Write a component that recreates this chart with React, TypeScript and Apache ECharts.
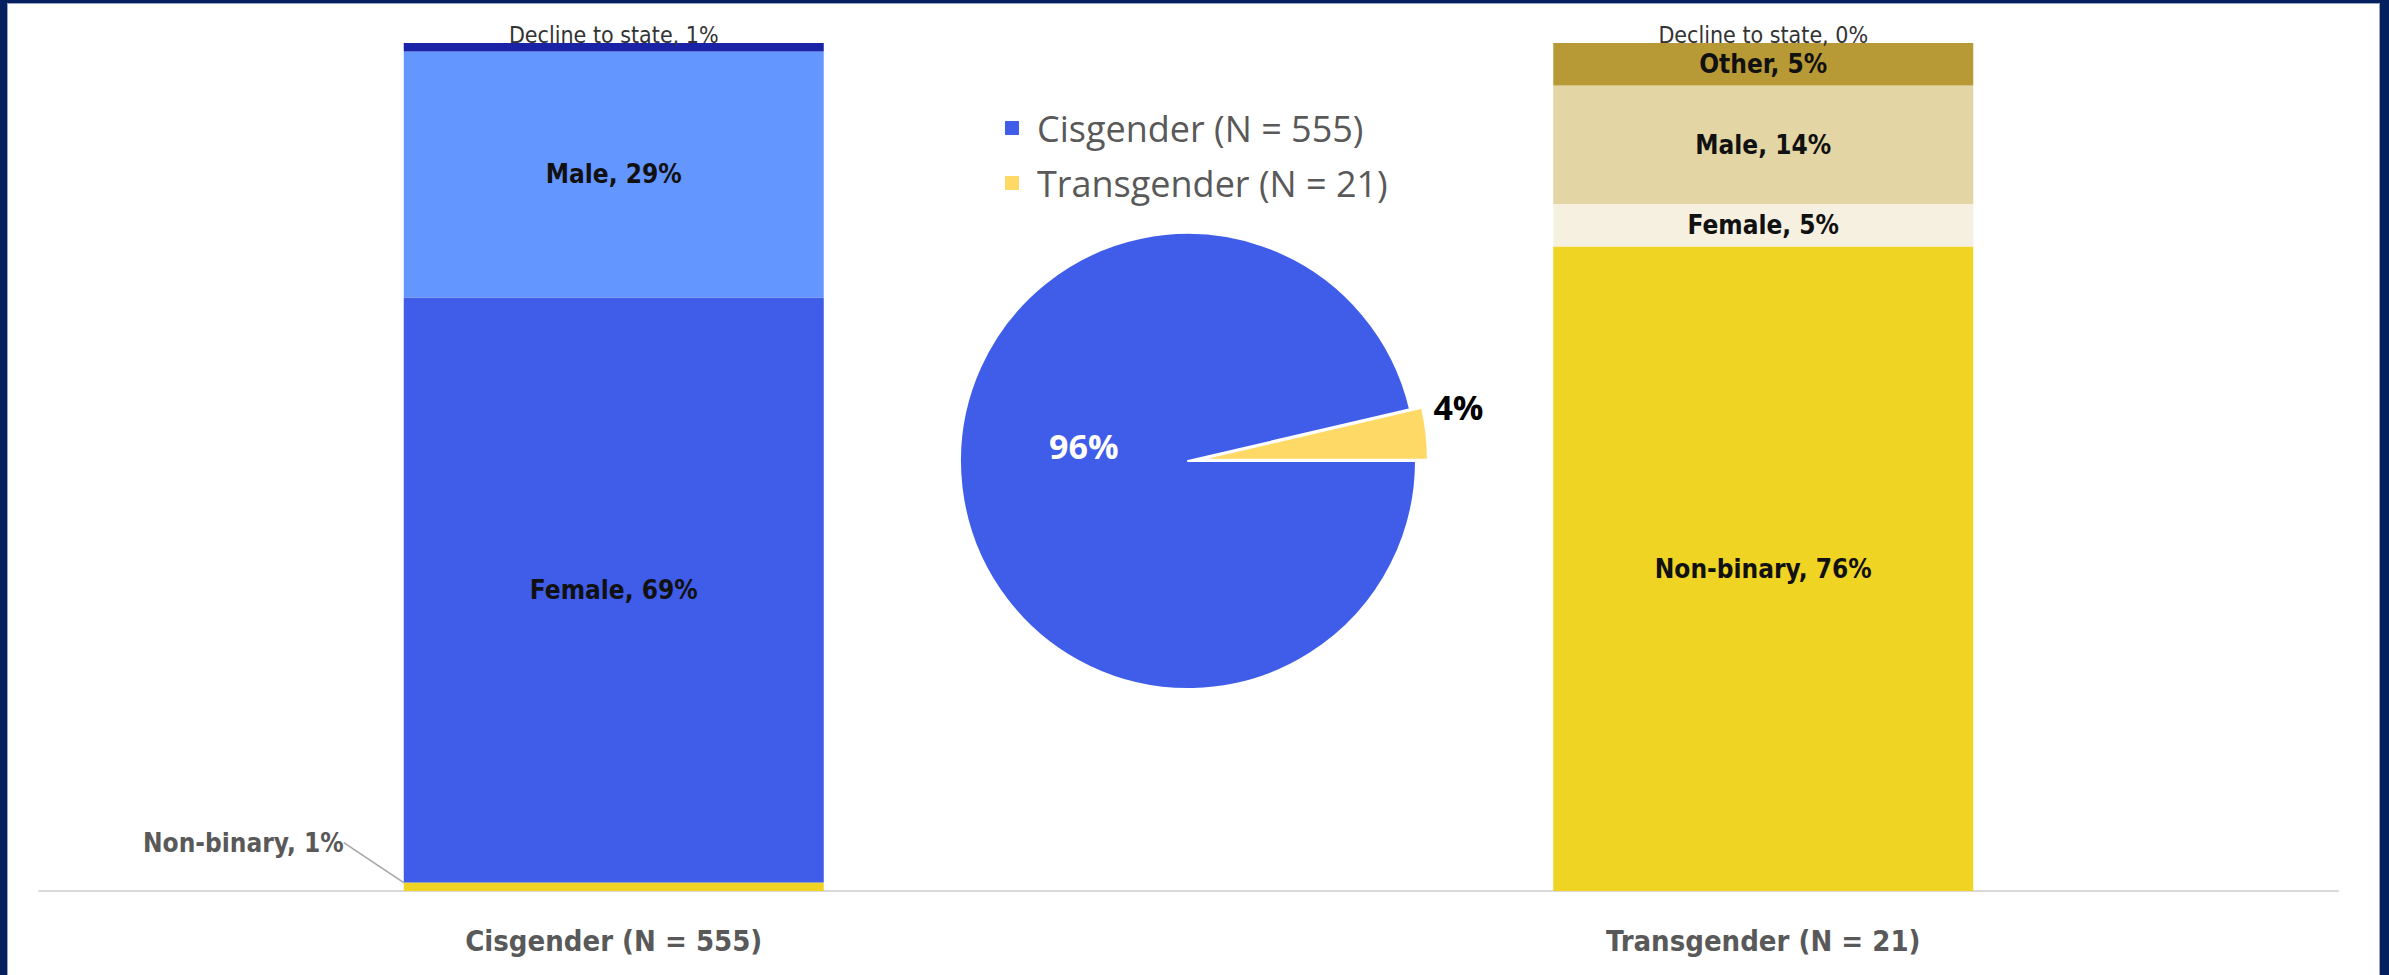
import React, { useEffect, useRef } from "react";
import * as echarts from "echarts";

// ---------- data ----------
const categories = ["Cisgender (N = 555)", "Transgender (N = 21)"];
const nonBinary = [1, 76];
const female = [69, 5];
const male = [29, 14];
const other: (number | null)[] = [null, 5];
const declineToState = [1, 0];

const pieNames = ["Cisgender (N = 555)", "Transgender (N = 21)"];
const pieCounts = [555, 21];

// ---------- styles ----------
const nonBinaryColors = ["#EFD423", "#EFD423"];
const femaleColors = ["#3F5DE8", "#F6F0E1"];
const maleColors = ["#6496FF", "#E3D5A4"];
const otherColors = ["#B79A36", "#B79A36"];
const declineColors = ["#1A23A6", "#B79A36"];
const pieColors = ["#3F5DE8", "#FFD966"];

const CONDENSED = '"DejaVu Sans Condensed", "DejaVu Sans", sans-serif';
const SANS = '"Open Sans", "Noto Sans", sans-serif';
const FRAME = "#05205E";
const FRAME_EDGE = "#9AA6C6";

function barSeries(name: string, values: (number | null)[], cols: string[], labelOverride?: any) {
  return {
    type: "bar",
    name,
    stack: "total",
    barWidth: 420,
    data: values.map((v, i) =>
      v == null ? "-" : { value: v, itemStyle: { color: cols[i] } }
    ),
    label: {
      show: true,
      position: "inside",
      formatter: (p: any) => `${name}, ${p.value}%`,
      fontFamily: CONDENSED,
      fontWeight: "bold",
      fontSize: 26,
      color: "#111111",
      ...(labelOverride || {}),
    },
  };
}

function buildOption() {
  const nb: any = barSeries("Non-binary", nonBinary, nonBinaryColors);
  nb.data[0] = {
    ...nb.data[0],
    label: {
      position: [-60, -40],
      align: "right",
      verticalAlign: "middle",
      color: "#595959",
    },
    labelLine: { show: true, lineStyle: { color: "#A6A6A6", width: 1.5 } },
  };

  return {
    animation: false,
    backgroundColor: "#ffffff",
    graphic: [
      { type: "rect", shape: { x: 0, y: 3, width: 2389, height: 1 }, style: { fill: FRAME_EDGE } },
      { type: "rect", shape: { x: 7, y: 0, width: 1, height: 975 }, style: { fill: FRAME_EDGE } },
      { type: "rect", shape: { x: 2379, y: 0, width: 1, height: 975 }, style: { fill: FRAME_EDGE } },
      { type: "rect", shape: { x: 0, y: 0, width: 2389, height: 3 }, style: { fill: FRAME } },
      { type: "rect", shape: { x: 0, y: 0, width: 7, height: 975 }, style: { fill: FRAME } },
      { type: "rect", shape: { x: 2380, y: 0, width: 9, height: 975 }, style: { fill: FRAME } },
    ],
    legend: {
      data: pieNames,
      orient: "vertical",
      left: 1003,
      top: 110,
      itemWidth: 16,
      itemHeight: 16,
      itemGap: 19,
      icon: "rect",
      padding: 0,
      textStyle: {
        fontFamily: SANS,
        fontSize: 36,
        lineHeight: 36,
        color: "#595959",
        padding: [0, 0, 0, 12],
      },
    },
    grid: { left: 39, right: 51, top: 43, bottom: 84 },
    xAxis: {
      type: "category",
      data: categories,
      axisTick: { show: false },
      axisLine: { lineStyle: { color: "#D9D9D9", width: 2 } },
      axisLabel: {
        color: "#595959",
        fontFamily: CONDENSED,
        fontWeight: "bold",
        fontSize: 29,
        margin: 35,
      },
    },
    yAxis: { type: "value", min: 0, max: 100, show: false },
    series: [
      nb,
      barSeries("Female", female, femaleColors),
      barSeries("Male", male, maleColors),
      barSeries("Other", other, otherColors),
      barSeries("Decline to state", declineToState, declineColors, {
        position: "top",
        distance: -3,
        fontSize: 23,
        fontWeight: "normal",
        color: "#333333",
      }),
      {
        type: "pie",
        center: [1188, 461],
        radius: 228,
        startAngle: 0,
        clockwise: true,
        selectedMode: "single",
        selectedOffset: 12,
        itemStyle: { borderColor: "#ffffff", borderWidth: 2 },
        label: {
          show: true,
          formatter: (p: any) => `${Math.round(p.percent)}%`,
          fontFamily: SANS,
          fontWeight: "bold",
          fontSize: 34,
        },
        labelLine: { show: false, length: 6, length2: 0 },
        labelLayout: (p: any) => (p.dataIndex === 0 ? { dx: 12, dy: -28 } : { dy: -26, dx: -4 }),
        data: pieNames.map((n, i) => ({
          name: n,
          value: pieCounts[i],
          selected: i === 1,
          itemStyle: { color: pieColors[i] },
          select: { itemStyle: { color: pieColors[i] } },
          label: i === 0 ? { position: "inside", color: "#ffffff" } : { position: "outside", color: "#000000" },
        })),
      },
    ],
  };
}

export default function App() {
  const ref = useRef<HTMLDivElement>(null);
  useEffect(() => {
    if (!ref.current) return;
    const chart = echarts.init(ref.current, null, { renderer: "svg" });
    chart.setOption(buildOption() as any);
    return () => chart.dispose();
  }, []);
  return (
    <div
      ref={ref}
      style={{ position: "fixed", left: 0, top: 0, width: 2389, height: 975, background: "#ffffff" }}
    />
  );
}
